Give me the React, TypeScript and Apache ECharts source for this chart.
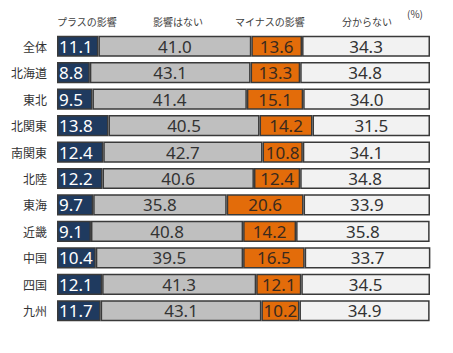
import React, { useEffect, useRef } from "react";
import * as echarts from "echarts";

const categories = ["全体", "北海道", "東北", "北関東", "南関東", "北陸", "東海", "近畿", "中国", "四国", "九州"];
const seriesNames = ["プラスの影響", "影響はない", "マイナスの影響", "分からない"];
const plus = [11.1, 8.8, 9.5, 13.8, 12.4, 12.2, 9.7, 9.1, 10.4, 12.1, 11.7];
const none = [41.0, 43.1, 41.4, 40.5, 42.7, 40.6, 35.8, 40.8, 39.5, 41.3, 43.1];
const minus = [13.6, 13.3, 15.1, 14.2, 10.8, 12.4, 20.6, 14.2, 16.5, 12.1, 10.2];
const unknown = [34.3, 34.8, 34.0, 31.5, 34.1, 34.8, 33.9, 35.8, 33.7, 34.5, 34.9];

const colors = ["#1F3A5F", "#BFBFBF", "#E36C0A", "#F2F2F2"];
const labelColors = ["#FFFFFF", "#333333", "#3A2A1E", "#333333"];
const FONT = "'Noto Sans CJK JP', 'Noto Sans', sans-serif";
const NUMFONT = "'Noto Sans', sans-serif";

export default function App() {
  const ref = useRef<HTMLDivElement>(null);
  useEffect(() => {
    if (!ref.current) return;
    const chart = echarts.init(ref.current, undefined, { renderer: "svg" });
    const data = [plus, none, minus, unknown];
    chart.setOption({
      animation: false,
      textStyle: { fontFamily: FONT },
      grid: { left: 57, right: 23, top: 33, bottom: 29 },
      xAxis: { type: "value", min: 0, max: 100, show: false },
      yAxis: {
        type: "category",
        data: categories,
        inverse: true,
        axisLine: { show: false },
        axisTick: { show: false },
        axisLabel: { color: "#333333", fontSize: 12, margin: 10, fontFamily: FONT },
      },
      graphic: [
        { type: "text", left: 57, top: 16, style: { text: seriesNames[0], fontSize: 10, fill: "#404040", fontFamily: FONT } },
        { type: "text", left: 153, top: 16, style: { text: seriesNames[1], fontSize: 10, fill: "#404040", fontFamily: FONT } },
        { type: "text", left: 235, top: 16, style: { text: seriesNames[2], fontSize: 10, fill: "#404040", fontFamily: FONT } },
        { type: "text", left: 342, top: 16, style: { text: seriesNames[3], fontSize: 10, fill: "#404040", fontFamily: FONT } },
        { type: "text", left: 407, top: 8, style: { text: "(%)", fontSize: 10, fill: "#404040", fontFamily: FONT } },
      ],
      series: data.map((d, i) => ({
        name: seriesNames[i],
        type: "bar",
        stack: "total",
        data: d,
        barCategoryGap: "20%",
        itemStyle: { color: colors[i], borderColor: "#3A3A3A", borderWidth: 1.5 },
        label: {
          show: true,
          position: i === 0 ? "insideLeft" : "inside",
          distance: 2,
          color: labelColors[i],
          fontSize: 17,
          fontFamily: NUMFONT,
          formatter: (p: any) => Number(p.value).toFixed(1),
        },
      })),
    });
    return () => chart.dispose();
  }, []);
  return <div ref={ref} style={{ position: "absolute", left: 0, top: 0, width: 453, height: 353 }} />;
}
